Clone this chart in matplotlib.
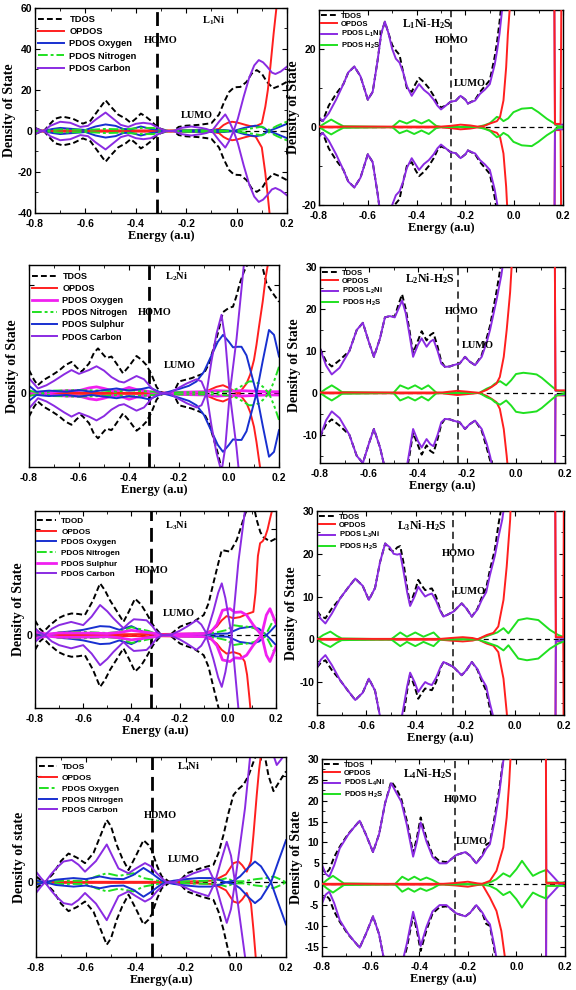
import numpy as np
import matplotlib
matplotlib.use("Agg")
import matplotlib.pyplot as plt
from matplotlib.ticker import MultipleLocator

# fonts: sans bold for ticks/legends, serif bold for labels and notes
SANS = 'Liberation Sans'
SERIF = 'Liberation Serif'
plt.rcParams['font.family'] = SANS
plt.rcParams['font.weight'] = 'bold'
plt.rcParams['mathtext.default'] = 'regular'
plt.rcParams['axes.unicode_minus'] = False
plt.rcParams['axes.linewidth'] = 1.0

W, H = 576, 990

RED = '#ff1f1f'
BLUE = '#1830d0'
GREEN = '#20e020'
PURPLE = '#8a2be2'
MAGENTA = '#f020f0'

x_ticks = [-0.8, -0.6, -0.4, -0.2, 0.0, 0.2]
x_tick_labels = ['-0.8', '-0.6', '-0.4', '-0.2', '0.0', '0.2']

# ---------------- L1Ni ----------------
p1_tdos = [(-0.8, 1.5), (-0.78, 0.5), (-0.765, 0), (-0.74, 3.5), (-0.72, 6), (-0.69, 7), (-0.65, 6),
           (-0.61, 3.6), (-0.58, 5), (-0.55, 10), (-0.52, 15), (-0.5, 12), (-0.47, 8), (-0.44, 6),
           (-0.42, 4), (-0.4, 6), (-0.38, 8.5), (-0.36, 7), (-0.34, 5), (-0.32, 2.5), (-0.3, 1),
           (-0.27, 0), (-0.25, 0), (-0.23, 2), (-0.2, 2.6), (-0.15, 3), (-0.1, 3.8), (-0.07, 8),
           (-0.05, 14), (-0.03, 19), (-0.01, 21.3), (0.015, 21.5), (0.04, 24), (0.06, 28), (0.08, 29.7),
           (0.1, 28), (0.12, 24), (0.145, 20.8), (0.17, 22), (0.2, 24)]
p1_opdos = [(-0.8, 0.3), (-0.4, 0.3), (-0.2, 0.3), (-0.1, 0.5), (-0.07, 1), (-0.052, 2.9), (-0.035, 4),
            (-0.018, 4.5), (0.0, 4.2), (0.015, 3.7), (0.035, 3), (0.054, 2.4), (0.075, 2.3), (0.1, 3.7),
            (0.114, 11.9), (0.124, 20), (0.134, 31.4), (0.147, 47.6), (0.158, 60), (0.17, 72)]
p1_opdos_low = [(-0.8, -0.3), (-0.4, -0.3), (-0.2, -0.3), (-0.1, -0.5), (-0.07, -1), (-0.052, -2.9),
                (-0.035, -4), (-0.018, -4.5), (0.0, -4.2), (0.015, -3.7), (0.035, -3), (0.054, -2.4),
                (0.075, -2.6), (0.1, -8), (0.114, -20.6), (0.124, -32), (0.134, -44), (0.147, -60), (0.17, -85)]
p1_oxygen = [(-0.8, 1), (-0.77, 0), (-0.73, 1), (-0.7, 1.5), (-0.65, 1), (-0.6, 0.5), (-0.56, 2.2),
             (-0.52, 3.2), (-0.48, 2.5), (-0.45, 1), (-0.42, 0.8), (-0.38, 2.2), (-0.34, 1), (-0.3, 0.5),
             (-0.27, 0), (-0.2, 0.3), (-0.1, 0.5), (-0.05, 0.5), (-0.012, 0), (0.03, 1.5), (0.074, 2.6),
             (0.1, 2), (0.127, 0), (0.16, 1.5), (0.2, 3.5)]
p1_nitrogen = [(-0.8, 0.5), (-0.77, 0), (-0.7, 0.8), (-0.6, 0.5), (-0.52, 1), (-0.45, 0.8), (-0.38, 1.5),
               (-0.33, 1.5), (-0.3, 0.5), (-0.27, 0), (-0.2, 0.3), (-0.1, 0.5), (-0.012, 0), (0.03, 0.8),
               (0.061, 1.3), (0.1, 2.1), (0.13, 0.5), (0.16, 2.5), (0.2, 4.6)]
p1_carbon = [(-0.8, 1.5), (-0.78, 0.3), (-0.765, 0), (-0.74, 2.5), (-0.7, 4.5), (-0.66, 4), (-0.62, 2),
             (-0.59, 2.5), (-0.56, 5.5), (-0.52, 9), (-0.49, 6), (-0.46, 3), (-0.43, 2), (-0.4, 3.5),
             (-0.37, 4), (-0.34, 3.5), (-0.31, 1.5), (-0.28, 0), (-0.25, 0), (-0.22, 1.5), (-0.18, 2.2),
             (-0.14, 1.5), (-0.12, 1), (-0.098, 0), (-0.07, 4.5), (-0.045, 8.1), (-0.03, 5), (-0.012, 0),
             (0.005, 6), (0.028, 16.7), (0.05, 26), (0.07, 32), (0.088, 34.6), (0.105, 33.5), (0.121, 31.4),
             (0.14, 28.5), (0.154, 27.8), (0.175, 29), (0.2, 31.4)]

# ---------------- L1Ni-H2S ----------------
p2_tdos = [(-0.8, 2), (-0.785, 1.5), (-0.76, 5.5), (-0.73, 8.5), (-0.7, 11), (-0.68, 14), (-0.655, 15.5),
           (-0.63, 13), (-0.6, 7), (-0.58, 9), (-0.56, 17), (-0.545, 24), (-0.53, 27), (-0.515, 24),
           (-0.5, 21), (-0.485, 19.6), (-0.47, 18.5), (-0.455, 14), (-0.44, 10), (-0.42, 9), (-0.405, 11),
           (-0.39, 12.6), (-0.37, 11.5), (-0.35, 10), (-0.33, 8), (-0.315, 6), (-0.3, 5), (-0.28, 5.5),
           (-0.26, 6.5), (-0.24, 6.7), (-0.22, 8), (-0.2, 7), (-0.19, 6), (-0.16, 7), (-0.14, 9),
           (-0.12, 10.5), (-0.1, 12), (-0.08, 18), (-0.07, 22), (-0.06, 27), (-0.05, 33), (-0.04, 38), (0.2, 40)]
p2_opdos = [(-0.8, 0.1), (-0.3, 0.1), (-0.26, 0.3), (-0.22, 0.6), (-0.18, 0.4), (-0.15, 0.1), (-0.126, 0.2),
            (-0.099, 0.9), (-0.071, 1.5), (-0.058, 2.6), (-0.044, 6.8), (-0.033, 15.3), (-0.026, 23.8),
            (-0.019, 29.8), (-0.012, 40), (0.164, 40), (0.167, 0.8), (0.19, 0.8), (0.194, 40), (0.2, 40)]
p2_l1ni = [(-0.8, 2.5), (-0.785, 1.5), (-0.76, 3.5), (-0.73, 7), (-0.7, 11), (-0.68, 14), (-0.655, 15.5),
           (-0.63, 13), (-0.6, 7), (-0.58, 9), (-0.56, 17), (-0.545, 24), (-0.53, 27), (-0.515, 24),
           (-0.5, 20), (-0.485, 17.5), (-0.47, 16.5), (-0.455, 14), (-0.44, 10.5), (-0.42, 8), (-0.405, 9.5),
           (-0.39, 11), (-0.37, 9.5), (-0.35, 8.5), (-0.33, 7), (-0.315, 5.5), (-0.3, 4.5), (-0.28, 5.5),
           (-0.26, 6.5), (-0.24, 6.7), (-0.22, 8), (-0.2, 7), (-0.19, 6), (-0.16, 6.8), (-0.14, 8.5),
           (-0.12, 9.6), (-0.1, 11), (-0.08, 16), (-0.07, 19.6), (-0.06, 24), (-0.05, 29.8), (-0.04, 36),
           (0.164, 40), (0.167, 0.6), (0.2, 0.6)]
p2_h2s = [(-0.8, 0), (-0.775, 1), (-0.75, 1.9), (-0.725, 1), (-0.7, 0.2), (-0.5, 0), (-0.47, 1.6),
          (-0.44, 0.9), (-0.41, 1.8), (-0.38, 0.9), (-0.35, 1.8), (-0.32, 0.3), (-0.3, 0), (-0.15, 0),
          (-0.12, 0.5), (-0.099, 1), (-0.071, 2.6), (-0.058, 2.3), (-0.044, 1.5), (-0.025, 2.2),
          (-0.003, 3.8), (0.031, 4.7), (0.072, 4.9), (0.099, 3.8), (0.134, 2.1), (0.162, 1), (0.178, 0.2),
          (0.2, 0.1)]

# ---------------- L2Ni ----------------
p3_tdos = [(-0.8, 4.3), (-0.78, 2.5), (-0.765, 1.5), (-0.74, 2.5), (-0.71, 3.3), (-0.68, 4.2), (-0.655, 5.2),
           (-0.63, 5.8), (-0.61, 4.8), (-0.59, 4), (-0.56, 5.5), (-0.54, 7.5), (-0.524, 8.3), (-0.5, 7),
           (-0.49, 6.5), (-0.47, 6.8), (-0.45, 5.5), (-0.424, 3.7), (-0.4, 5), (-0.37, 6.9), (-0.35, 6.2),
           (-0.33, 5.2), (-0.31, 3.5), (-0.29, 1.2), (-0.275, 0.3), (-0.255, 0), (-0.235, 0), (-0.215, 0.8),
           (-0.2, 2.2), (-0.15, 2.8), (-0.1, 3.7), (-0.08, 5.5), (-0.064, 8), (-0.045, 11), (-0.024, 15),
           (0.0, 15.8), (0.016, 16), (0.03, 18), (0.043, 20.3), (0.06, 22.5), (0.076, 24), (0.1, 26),
           (0.125, 25), (0.15, 20.3), (0.175, 18.5), (0.2, 16.9)]
p3_opdos = [(-0.8, 0.1), (-0.3, 0.1), (-0.1, 0.2), (-0.07, 0.8), (-0.05, 1.2), (-0.024, 1.5), (0.0, 1),
            (0.02, 0.4), (0.04, 0), (0.07, 1.8), (0.085, 3.5), (0.1, 6.2), (0.11, 9), (0.12, 12.3),
            (0.135, 17), (0.147, 21.5), (0.16, 25), (0.17, 28)]
p3_oxygen = [(-0.8, 0.3), (-0.75, 0), (-0.7, 0.3), (-0.65, 0.5), (-0.6, 0.5), (-0.56, 1), (-0.53, 1.2),
             (-0.5, 0.9), (-0.46, 0.4), (-0.43, 0.6), (-0.4, 1.1), (-0.37, 0.7), (-0.33, 0.4), (-0.3, 0.2),
             (-0.27, 0), (-0.2, 0.2), (-0.1, 0.3), (-0.05, 0.5), (0.0, 0.4), (0.05, 0.5), (0.1, 0.4),
             (0.15, 0.3), (0.2, 0.3)]
p3_nitrogen = [(-0.8, 0.5), (-0.75, 0), (-0.7, 0.5), (-0.6, 0.6), (-0.5, 0.5), (-0.45, 0.3), (-0.4, 0.6),
               (-0.35, 0.4), (-0.3, 0.3), (-0.27, 0), (-0.2, 0.2), (-0.1, 0.2), (-0.05, 0.2), (0.0, 0.4),
               (0.03, 0.8), (0.056, 1.5), (0.08, 2.2), (0.1, 2.2), (0.12, 1.8), (0.136, 1.2), (0.16, 0),
               (0.18, 2.2), (0.2, 4.9)]
p3_sulphur = [(-0.8, 1.4), (-0.77, 0.3), (-0.72, 0.5), (-0.65, 0.3), (-0.6, 0.6), (-0.55, 0.3), (-0.5, 0.6),
              (-0.45, 0.9), (-0.4, 0.5), (-0.35, 0.8), (-0.32, 1.1), (-0.29, 0.5), (-0.265, 0), (-0.24, 0.3),
              (-0.2, 0.8), (-0.16, 1.4), (-0.13, 2.2), (-0.1, 4), (-0.07, 7), (-0.045, 9.5), (-0.024, 10.8),
              (0.0, 9.5), (0.016, 8.5), (0.035, 8.6), (0.05, 8.6), (0.07, 7), (0.09, 3.5), (0.11, 0),
              (0.135, 6), (0.16, 11.7), (0.18, 10.8), (0.2, 6.8)]
p3_carbon = [(-0.8, 2.8), (-0.764, 0.9), (-0.73, 1.5), (-0.7, 2.3), (-0.66, 3.5), (-0.63, 4.3), (-0.6, 3.6),
             (-0.56, 4.3), (-0.53, 5), (-0.5, 4.2), (-0.47, 3), (-0.44, 2.2), (-0.42, 2), (-0.395, 2.6),
             (-0.37, 3.2), (-0.34, 2.6), (-0.31, 1), (-0.29, 0.3), (-0.265, 0), (-0.24, 0), (-0.21, 0.8),
             (-0.17, 1.8), (-0.13, 2.6), (-0.11, 2.2), (-0.09, 0), (-0.07, 6), (-0.05, 11), (-0.03, 14.5),
             (-0.015, 10), (0.003, 0), (0.03, 10), (0.06, 24), (0.09, 35)]

# ---------------- L2Ni-H2S ----------------
p4_tdos = [(-0.8, 10.6), (-0.775, 7.5), (-0.752, 6.3), (-0.72, 7.8), (-0.68, 10), (-0.65, 15), (-0.625, 16.7),
           (-0.6, 12), (-0.58, 8.6), (-0.555, 13), (-0.535, 18), (-0.515, 18.3), (-0.495, 18.2), (-0.48, 21),
           (-0.465, 23.5), (-0.45, 20), (-0.435, 15), (-0.42, 9.5), (-0.4, 12.5), (-0.385, 14.7),
           (-0.365, 12.5), (-0.35, 13.8), (-0.337, 14.3), (-0.32, 11), (-0.305, 7.5), (-0.29, 6.2),
           (-0.27, 6.3), (-0.256, 6.6), (-0.23, 7), (-0.208, 8.6), (-0.19, 7.5), (-0.167, 6.6), (-0.14, 9),
           (-0.12, 13), (-0.106, 16), (-0.08, 24), (-0.06, 31), (-0.05, 35), (-0.04, 40), (0.2, 40)]
p4_opdos = [(-0.8, 0.1), (-0.3, 0.1), (-0.27, 0.3), (-0.24, 0.5), (-0.2, 0.3), (-0.15, 0), (-0.12, 0.7),
            (-0.1, 1.4), (-0.08, 2.2), (-0.066, 3.8), (-0.05, 8.6), (-0.038, 15), (-0.024, 24), (-0.018, 30),
            (-0.01, 40), (0.158, 40), (0.161, 0.6), (0.2, 0.6)]
p4_l2ni = [(-0.8, 10.6), (-0.775, 6.5), (-0.752, 4.4), (-0.72, 6), (-0.68, 10), (-0.65, 15), (-0.625, 16.7),
           (-0.6, 12), (-0.58, 8.6), (-0.555, 13), (-0.535, 18), (-0.515, 18.3), (-0.495, 18), (-0.48, 20),
           (-0.465, 22), (-0.45, 19), (-0.435, 14), (-0.42, 8.6), (-0.4, 11.5), (-0.385, 13), (-0.365, 11),
           (-0.35, 12.2), (-0.337, 12.7), (-0.32, 10), (-0.305, 7), (-0.29, 6.2), (-0.27, 6.3),
           (-0.256, 6.6), (-0.23, 7), (-0.208, 8.6), (-0.19, 7.5), (-0.167, 6.6), (-0.14, 8.6), (-0.12, 12),
           (-0.106, 15), (-0.08, 22), (-0.06, 28), (-0.05, 32), (-0.04, 36), (0.158, 40), (0.161, 0.5),
           (0.2, 0.5)]
p4_h2s = [(-0.8, 0), (-0.775, 1), (-0.752, 1.8), (-0.73, 1), (-0.71, 0.2), (-0.5, 0), (-0.473, 1.8),
          (-0.44, 1), (-0.412, 1.8), (-0.385, 0.9), (-0.358, 1.8), (-0.324, 0), (-0.15, 0), (-0.12, 1),
          (-0.1, 1.5), (-0.086, 2.2), (-0.065, 2.8), (-0.04, 1.8), (-0.02, 3), (0.0, 4.5), (0.03, 4.8),
          (0.06, 4.6), (0.084, 4.4), (0.105, 3.6), (0.125, 2.6), (0.145, 1.6), (0.166, 0.6), (0.2, 0.2)]

# ---------------- L3Ni ----------------
p5_tdod = [(-0.8, 2.8), (-0.78, 1.2), (-0.765, 0.6), (-0.74, 1.8), (-0.703, 3.2), (-0.675, 3.8),
           (-0.648, 4.1), (-0.62, 4), (-0.593, 3.8), (-0.56, 6.5), (-0.53, 9.8), (-0.51, 8.5), (-0.489, 6.6),
           (-0.46, 4.5), (-0.433, 2.5), (-0.41, 4.5), (-0.385, 6.9), (-0.36, 5.8), (-0.337, 4.1), (-0.31, 1.9),
           (-0.285, 0.5), (-0.267, 0), (-0.24, 0), (-0.22, 0.8), (-0.198, 1.6), (-0.17, 2.1), (-0.143, 2.5),
           (-0.1, 3.8), (-0.08, 6), (-0.06, 9.8), (-0.04, 13.5), (-0.025, 16.1), (0.01, 15.8), (0.037, 18),
           (0.055, 20.5), (0.07, 22.7), (0.09, 25), (0.105, 25), (0.12, 21.8), (0.135, 19.5), (0.147, 18.6),
           (0.175, 17.7), (0.2, 18.3)]
p5_opdos = [(-0.8, 0.1), (-0.3, 0.2), (-0.1, 0.3), (-0.07, 0.8), (-0.046, 1.6), (-0.025, 2.8), (-0.005, 3.6),
            (0.023, 3.2), (0.05, 3.4), (0.08, 4), (0.106, 4.4), (0.115, 8), (0.125, 15), (0.134, 17.4),
            (0.145, 17.8), (0.155, 18.6), (0.165, 20), (0.175, 22), (0.182, 23.3), (0.19, 26)]
p5_opdos_low = [(-0.8, -0.1), (-0.3, -0.2), (-0.1, -0.3), (-0.07, -0.8), (-0.046, -1.6), (-0.025, -2.8),
                (-0.005, -3.5), (0.023, -3.2), (0.05, -3.6), (0.07, -5), (0.08, -7.5), (0.09, -12),
                (0.106, -20), (0.12, -30)]
p5_oxygen = [(-0.8, 0.3), (-0.75, 0), (-0.7, 0.5), (-0.65, 0.7), (-0.6, 1), (-0.53, 1.7), (-0.49, 1.6),
             (-0.45, 1), (-0.4, 1.7), (-0.35, 0.6), (-0.3, 0.3), (-0.27, 0), (-0.2, 0.2), (-0.1, 0.2),
             (0.0, 0.3), (0.05, 1.3), (0.1, 1.6), (0.13, 1.2), (0.16, 0), (0.18, 0.9), (0.2, 1.9)]
p5_nitrogen = [(-0.8, 0.6), (-0.75, 0), (-0.7, 0.5), (-0.6, 0.6), (-0.5, 0.4), (-0.45, 0.6), (-0.4, 1.5),
               (-0.37, 1.2), (-0.33, 0.8), (-0.3, 0.3), (-0.27, 0), (-0.2, 0.2), (-0.1, 0.3), (-0.05, 0.5),
               (0.0, 1), (0.02, 1.9), (0.05, 1.7), (0.08, 1.6), (0.11, 1.3), (0.14, 0.4), (0.16, 0.3), (0.2, 3.8)]
p5_sulphur = [(-0.8, 0.6), (-0.75, 0.2), (-0.7, 0.4), (-0.6, 0.4), (-0.5, 0.3), (-0.45, 0.5), (-0.4, 0.9),
              (-0.35, 0.6), (-0.3, 0.3), (-0.27, 0), (-0.2, 0.2), (-0.1, 0.3), (-0.07, 0.6), (-0.045, 2),
              (-0.022, 4.7), (0.009, 5), (0.03, 4.3), (0.055, 4.4), (0.078, 3.8), (0.106, 1.9), (0.14, 0),
              (0.16, 3.8), (0.175, 5), (0.2, 2.2)]
p5_carbon = [(-0.8, 1.3), (-0.78, 0.5), (-0.76, 0), (-0.73, 1.2), (-0.7, 1.9), (-0.65, 2.5), (-0.6, 1.9),
             (-0.565, 3.5), (-0.53, 5.7), (-0.5, 4.5), (-0.475, 3.2), (-0.433, 1.3), (-0.41, 2.3), (-0.39, 3),
             (-0.36, 2.9), (-0.337, 2.8), (-0.315, 1.8), (-0.295, 0.6), (-0.27, 0), (-0.24, 0), (-0.2, 0.8),
             (-0.17, 1.6), (-0.13, 2.8), (-0.11, 2), (-0.088, 0.3), (-0.06, 4.5), (-0.04, 8), (-0.025, 9.8),
             (-0.01, 7), (0.016, 0), (0.044, 13.9), (0.071, 23.5), (0.1, 30)]

# ---------------- L3Ni-H2S ----------------
p6_tdos = [(-0.8, 6.6), (-0.785, 5.5), (-0.766, 4.9), (-0.74, 7.2), (-0.706, 9.6), (-0.675, 12), (-0.645, 14.2),
           (-0.615, 12.5), (-0.59, 9.2), (-0.565, 12), (-0.545, 18), (-0.524, 22.4), (-0.505, 21), (-0.49, 20.5),
           (-0.475, 21.5), (-0.463, 21.8), (-0.45, 18), (-0.435, 12), (-0.423, 8.2), (-0.405, 11), (-0.39, 13.9),
           (-0.375, 12.5), (-0.362, 11.5), (-0.35, 11.7), (-0.335, 11.9), (-0.318, 10), (-0.3, 6.7),
           (-0.288, 5.3), (-0.27, 5.8), (-0.247, 6.5), (-0.23, 7.5), (-0.214, 8.4), (-0.195, 7.2),
           (-0.173, 5.3), (-0.15, 7.2), (-0.133, 9.8), (-0.115, 12), (-0.1, 16.2), (-0.08, 21), (-0.065, 27),
           (-0.05, 32), (-0.04, 36), (0.2, 40)]
p6_opdos = [(-0.8, 0.1), (-0.3, 0.1), (-0.26, 0.3), (-0.21, 0.5), (-0.17, 0.3), (-0.15, 0), (-0.113, 1),
            (-0.086, 1.5), (-0.066, 3), (-0.045, 9.2), (-0.032, 17), (-0.018, 28), (-0.01, 40), (0.164, 40),
            (0.167, 0.5), (0.197, 0.5), (0.2, 40)]
p6_l3ni = [(-0.8, 6.6), (-0.785, 4.8), (-0.766, 3.7), (-0.74, 6), (-0.706, 9.6), (-0.675, 12), (-0.645, 14.2),
           (-0.615, 12.5), (-0.59, 9.2), (-0.565, 12), (-0.545, 18), (-0.524, 22.4), (-0.505, 21.5), (-0.49, 20),
           (-0.475, 19.8), (-0.463, 20), (-0.45, 16), (-0.435, 11), (-0.423, 7.8), (-0.405, 10), (-0.39, 12.3),
           (-0.375, 11), (-0.362, 10), (-0.35, 10.4), (-0.335, 10.7), (-0.318, 9), (-0.3, 6.5), (-0.288, 5.3),
           (-0.27, 5.8), (-0.247, 6.5), (-0.23, 7.5), (-0.214, 8.4), (-0.195, 7.2), (-0.173, 5.3), (-0.15, 7),
           (-0.133, 9.2), (-0.115, 11), (-0.1, 15), (-0.08, 19.5), (-0.065, 24), (-0.05, 28), (-0.04, 32),
           (-0.03, 40), (0.164, 40), (0.167, 0.4), (0.2, 0.3)]
p6_h2s = [(-0.8, 0), (-0.775, 1), (-0.746, 1.8), (-0.72, 0.8), (-0.7, 0.2), (-0.5, 0), (-0.463, 1.6),
          (-0.436, 0.6), (-0.402, 1.6), (-0.369, 0.6), (-0.328, 1.6), (-0.3, 0), (-0.15, 0), (-0.1, 1),
          (-0.07, 1.6), (-0.045, 2.6), (-0.025, 1.4), (0.015, 4.5), (0.05, 4.9), (0.096, 4.5), (0.143, 2.2),
          (0.177, 1), (0.2, 0.5)]

# ---------------- L4Ni ----------------
p7_tdos = [(-0.8, 1.1), (-0.78, 0.4), (-0.764, 0), (-0.73, 1.7), (-0.7, 4), (-0.67, 5.4), (-0.635, 4.6),
           (-0.604, 3.6), (-0.57, 5.5), (-0.54, 9), (-0.517, 11.7), (-0.5, 10.5), (-0.477, 7), (-0.455, 4.5),
           (-0.43, 2.3), (-0.4, 5), (-0.37, 7.9), (-0.35, 7), (-0.337, 6), (-0.315, 3), (-0.297, 1.1),
           (-0.264, 0), (-0.23, 0), (-0.197, 1.7), (-0.144, 2.6), (-0.09, 3.3), (-0.07, 5.5), (-0.05, 8.9),
           (-0.03, 13), (-0.01, 16.4), (0.01, 17.5), (0.03, 18.3), (0.05, 20), (0.07, 22.6), (0.09, 25),
           (0.11, 25), (0.13, 20), (0.15, 17.1), (0.175, 19), (0.2, 20.8)]
p7_opdos = [(-0.8, 0.1), (-0.3, 0.1), (-0.15, 0.2), (-0.1, 0.3), (-0.077, 0.6), (-0.04, 1.5), (-0.01, 3.6),
            (0.01, 3.9), (0.025, 3.2), (0.043, 2), (0.06, 4), (0.07, 9), (0.083, 16.4), (0.092, 21), (0.1, 24),
            (0.11, 28)]
p7_oxygen = [(-0.8, 0.3), (-0.764, 0), (-0.7, 0.3), (-0.6, 0.3), (-0.56, 1.1), (-0.517, 1.7), (-0.47, 1.2),
             (-0.41, 1.7), (-0.37, 0.8), (-0.3, 0.2), (-0.264, 0), (-0.2, 0.2), (-0.1, 0.3), (-0.06, 0.5),
             (-0.037, 0.8), (-0.01, 0.2), (0.03, 0.2), (0.08, 0.6), (0.12, 0.8), (0.15, 1.1), (0.18, 0.5), (0.2, 0)]
p7_nitrogen = [(-0.8, 0.4), (-0.764, 0), (-0.72, 0.5), (-0.65, 0.8), (-0.6, 0.6), (-0.544, 1.1), (-0.5, 0.7),
               (-0.45, 0.6), (-0.41, 1.4), (-0.37, 2.7), (-0.34, 1.8), (-0.3, 0.4), (-0.28, 0), (-0.25, 0.3),
               (-0.2, 0.6), (-0.15, 0.8), (-0.1, 0.8), (-0.07, 0.5), (-0.04, 0), (-0.01, 0.3), (0.016, 1.1),
               (0.05, 2.8), (0.076, 3.9), (0.1, 3), (0.12, 1.5), (0.14, 0), (0.17, 4), (0.2, 7.9)]
p7_carbon = [(-0.8, 2), (-0.78, 0.8), (-0.764, 0), (-0.74, 1.5), (-0.72, 2.6), (-0.69, 3.9), (-0.657, 4.2),
             (-0.63, 3.3), (-0.604, 2), (-0.56, 4), (-0.517, 7.1), (-0.49, 4.5), (-0.47, 2.6), (-0.43, 1.7),
             (-0.4, 2.6), (-0.364, 3.6), (-0.34, 3), (-0.317, 1.7), (-0.29, 0.5), (-0.277, 0), (-0.25, 0),
             (-0.21, 0.8), (-0.17, 1.7), (-0.11, 2.6), (-0.084, 0), (-0.06, 4), (-0.037, 7.6), (-0.02, 5),
             (-0.004, 0), (0.036, 13.9), (0.07, 30), (0.12, 30), (0.145, 24.5), (0.163, 22), (0.18, 23),
             (0.19, 23.7), (0.2, 26)]

# ---------------- L4Ni-H2S ----------------
p8_tdos = [(-0.8, 4), (-0.785, 2.6), (-0.77, 3.5), (-0.75, 6.5), (-0.727, 9), (-0.693, 12), (-0.67, 13.5),
           (-0.645, 15.2), (-0.62, 12), (-0.59, 7.7), (-0.565, 12), (-0.54, 19.5), (-0.515, 24.6), (-0.495, 23),
           (-0.474, 20.5), (-0.45, 15), (-0.425, 7.5), (-0.41, 11), (-0.394, 16), (-0.37, 11), (-0.345, 7),
           (-0.316, 5.5), (-0.288, 5.3), (-0.268, 6), (-0.247, 7), (-0.21, 7.7), (-0.19, 6.8), (-0.165, 5),
           (-0.14, 7), (-0.124, 9.5), (-0.109, 10), (-0.09, 16), (-0.07, 23), (-0.054, 30), (-0.04, 35),
           (-0.02, 40), (0.2, 40)]
p8_opdos = [(-0.8, 0.1), (-0.3, 0.1), (-0.25, 0.3), (-0.2, 0.6), (-0.16, 0.2), (-0.14, 0.1), (-0.109, 0.8),
            (-0.082, 3.2), (-0.054, 8.8), (-0.04, 16), (-0.03, 24), (-0.025, 29.5), (-0.015, 40), (0.121, 40),
            (0.123, 0.3), (0.2, 0.3)]
p8_opdos_low = [(-0.8, -0.1), (-0.3, -0.1), (-0.25, -0.3), (-0.2, -0.6), (-0.16, -0.2), (-0.14, -0.1),
                (-0.109, -3.2), (-0.082, -6.4), (-0.062, -11.2), (-0.048, -17.2), (-0.035, -26), (-0.025, -40),
                (0.121, -40), (0.123, -0.3), (0.2, -0.3)]
p8_l4ni = [(-0.8, 4.6), (-0.785, 2.5), (-0.77, 1.8), (-0.75, 4.5), (-0.727, 8.6), (-0.693, 11.8), (-0.67, 13.5),
           (-0.645, 15.2), (-0.62, 12), (-0.59, 7.7), (-0.565, 12), (-0.54, 19.5), (-0.515, 24.2), (-0.495, 22),
           (-0.474, 19.8), (-0.45, 14), (-0.425, 6.6), (-0.41, 10), (-0.394, 14.8), (-0.37, 10.2), (-0.345, 6.5),
           (-0.316, 5), (-0.288, 5), (-0.268, 6), (-0.247, 7), (-0.21, 7.7), (-0.19, 6.8), (-0.165, 5),
           (-0.14, 6.8), (-0.124, 8.5), (-0.109, 9.6), (-0.09, 15), (-0.07, 22), (-0.054, 29.5), (-0.04, 34),
           (-0.02, 40), (0.121, 40), (0.123, 3.6), (0.155, 1.6), (0.18, 0), (0.2, 0.6)]
p8_h2s = [(-0.8, 0), (-0.78, 1), (-0.755, 2), (-0.73, 1), (-0.71, 0.2), (-0.5, 0), (-0.47, 1.8), (-0.445, 1),
          (-0.42, 1.8), (-0.395, 1), (-0.37, 1.6), (-0.345, 1), (-0.315, 0), (-0.15, 0), (-0.11, 0.4),
          (-0.082, 1.2), (-0.054, 2.6), (-0.027, 1.8), (0.0, 3.6), (0.023, 5.6), (0.045, 3.8), (0.068, 2),
          (0.095, 2.8), (0.121, 3.4), (0.123, 0.4), (0.2, 0.4)]


def rect(l, t, r, b):
    return [l / W, 1 - b / H, (r - l) / W, (b - t) / H]


def dos(ax, pts, color, label, low=None, lw=1.4, z=2, zl=None, **kw):
    # upper (spin up) curve plus its mirror below zero
    x, y = zip(*pts)
    line, = ax.plot(x, y, color=color, lw=lw, zorder=z, label=label, **kw)
    if low is None:
        ax.plot(x, [-v for v in y], color=color, lw=lw, zorder=z if zl is None else zl, **kw)
    else:
        xl, yl = zip(*low)
        ax.plot(xl, yl, color=color, lw=lw, zorder=z if zl is None else zl, **kw)
    return line


def note(ax, x, y, s, size=7.5):
    ax.text(x, y, s, ha='center', va='center', family=SERIF, weight='bold', fontsize=size, zorder=5)


def frame(ax, ylim, yticks, ylabels=None, minor=None, xlabel='Energy (a.u)', ylabel='Density of State'):
    ax.set_xlim(-0.8, 0.2)
    ax.set_ylim(*ylim)
    ax.set_xticks(x_ticks)
    ax.set_xticklabels(x_tick_labels)
    ax.xaxis.set_minor_locator(MultipleLocator(0.1))
    ax.set_yticks(yticks)
    if ylabels is not None:
        ax.set_yticklabels(ylabels)
    if minor:
        ax.yaxis.set_minor_locator(MultipleLocator(minor))
    ax.tick_params(which='both', direction='in', top=True, right=True, labelsize=7.5, pad=2)
    ax.tick_params(axis='x', which='both', pad=4)
    ax.tick_params(which='major', length=3.5, width=0.8)
    ax.tick_params(which='minor', length=2, width=0.6)
    ax.set_xlabel(xlabel, family=SERIF, weight='bold', fontsize=9, labelpad=1)
    ax.set_ylabel(ylabel, family=SERIF, weight='bold', fontsize=10, labelpad=1)
    ax.axhline(0, color='black', lw=0.9, ls=(0, (4, 3)), zorder=1.5)


def homo(ax, x, thick=True):
    if thick:
        ax.axvline(x, color='black', lw=2.0, ls=(0, (5, 2.5)), zorder=1.6)
    else:
        ax.axvline(x, color='#333333', lw=1.3, ls=(0, (4, 2.5)), zorder=1.6)


def big_legend(ax, size, hl, dy):
    ax.legend(loc='upper left', bbox_to_anchor=(0.0, 1.0 - dy), frameon=False, fontsize=size,
              handlelength=hl, labelspacing=0.35, borderaxespad=0.1, borderpad=0.2, handletextpad=0.6)


def small_legend(ax):
    ax.legend(loc='upper left', bbox_to_anchor=(0.0, 1.0), frameon=False, fontsize=5.5,
              handlelength=2.0, labelspacing=0.15, borderaxespad=0.1, borderpad=0.2, handletextpad=0.6)


TDASH = dict(ls=(0, (3, 1.6)))
DASHDOT = dict(ls=(0, (5, 1.5, 1.5, 1.5)))
DASHDOTDOT = dict(ls=(0, (5, 1.5, 1.5, 1.5, 1.5, 1.5)))

fig = plt.figure(figsize=(W / 100, H / 100), dpi=100)

# panel 1: L1Ni
ax = fig.add_axes(rect(35, 8, 287, 213))
dos(ax, p1_tdos, 'black', 'TDOS', lw=1.4, **TDASH)
dos(ax, p1_opdos, RED, 'OPDOS', low=p1_opdos_low)
dos(ax, p1_oxygen, BLUE, 'PDOS Oxygen')
dos(ax, p1_nitrogen, GREEN, 'PDOS Nitrogen', **DASHDOT)
dos(ax, p1_carbon, PURPLE, 'PDOS Carbon')
frame(ax, (-40, 60), [-40, -20, 0, 20, 40, 60], minor=10)
homo(ax, -0.317)
note(ax, -0.30, 44, 'HOMO')
note(ax, -0.158, 7.8, 'LUMO')
note(ax, -0.09, 54, 'L$_1$Ni')
big_legend(ax, 6.7, 2.8, 0.02)

# panel 2: L1Ni-H2S
ax = fig.add_axes(rect(319, 10, 563, 205))
dos(ax, p2_tdos, 'black', 'TDOS', lw=1.4, **TDASH)
dos(ax, p2_opdos, RED, 'OPDOS', z=2.6, zl=2)
dos(ax, p2_l1ni, PURPLE, 'PDOS L$_1$Ni', z=2.3)
dos(ax, p2_h2s, GREEN, 'PDOS H$_2$S', z=2.4)
frame(ax, (-20, 30), [-20, 0, 20], minor=10)
homo(ax, -0.259, thick=False)
note(ax, -0.359, 26.5, 'L$_1$Ni-H$_2$S', 8.5)
note(ax, -0.256, 22.3, 'HOMO')
note(ax, -0.181, 11.2, 'LUMO')
small_legend(ax)

# panel 3: L2Ni
ax = fig.add_axes(rect(29, 265, 279, 467))
dos(ax, p3_tdos, 'black', 'TDOS', lw=1.4, **TDASH)
dos(ax, p3_opdos, RED, 'OPDOS')
dos(ax, p3_oxygen, MAGENTA, 'PDOS Oxygen', lw=2.0)
dos(ax, p3_nitrogen, GREEN, 'PDOS Nitrogen', **DASHDOTDOT)
dos(ax, p3_sulphur, BLUE, 'PDOS Sulphur')
dos(ax, p3_carbon, PURPLE, 'PDOS Carbon')
frame(ax, (-13.6, 23.7), [0, 20], ['0', ''])
homo(ax, -0.321)
note(ax, -0.297, 15, 'HOMO')
note(ax, -0.197, 5.2, 'LUMO')
note(ax, -0.21, 21.5, 'L$_2$Ni')
big_legend(ax, 6.5, 2.8, 0.02)

# panel 4: L2Ni-H2S
ax = fig.add_axes(rect(320, 267, 565, 463))
dos(ax, p4_tdos, 'black', 'TDOS', lw=1.4, **TDASH)
dos(ax, p4_opdos, RED, 'OPDOS', z=2.6, zl=2)
dos(ax, p4_l2ni, PURPLE, 'PDOS L$_2$Ni', z=2.3)
dos(ax, p4_h2s, GREEN, 'PDOS H$_2$S', z=2.4)
frame(ax, (-16.7, 30), [-10, 0, 10, 20, 30], minor=5)
homo(ax, -0.235, thick=False)
note(ax, -0.351, 27.2, 'L$_2$Ni-H$_2$S', 8.5)
note(ax, -0.222, 19.3, 'HOMO')
note(ax, -0.154, 11.3, 'LUMO')
small_legend(ax)

# panel 5: L3Ni
ax = fig.add_axes(rect(35, 511, 276, 708))
dos(ax, p5_tdod, 'black', 'TDOD', lw=1.4, **TDASH)
dos(ax, p5_opdos, RED, 'OPDOS', low=p5_opdos_low)
dos(ax, p5_oxygen, BLUE, 'PDOS Oxygen')
dos(ax, p5_nitrogen, GREEN, 'PDOS Nitrogen', **DASHDOT)
dos(ax, p5_sulphur, MAGENTA, 'PDOS Sulphur', lw=2.0)
dos(ax, p5_carbon, PURPLE, 'PDOS Carbon')
frame(ax, (-13.8, 23.5), [0, 20], ['0', ''])
homo(ax, -0.319)
note(ax, -0.316, 12.3, 'HOMO')
note(ax, -0.205, 4.1, 'LUMO')
note(ax, -0.212, 20.8, 'L$_3$Ni')
big_legend(ax, 5.9, 2.3, 0.02)

# panel 6: L3Ni-H2S
ax = fig.add_axes(rect(317, 511, 564, 715))
dos(ax, p6_tdos, 'black', 'TDOS', lw=1.4, **TDASH)
dos(ax, p6_opdos, RED, 'OPDOS', z=2.6, zl=2)
dos(ax, p6_l3ni, PURPLE, 'PDOS L$_3$Ni', z=2.3)
dos(ax, p6_h2s, GREEN, 'PDOS H$_2$S', z=2.4)
frame(ax, (-17.7, 30), [-10, 0, 10, 20, 30], minor=5)
homo(ax, -0.251, thick=False)
note(ax, -0.375, 26.7, 'L$_3$Ni-H$_2$S', 8.5)
note(ax, -0.227, 20, 'HOMO')
note(ax, -0.18, 11.1, 'LUMO')
small_legend(ax)

# panel 7: L4Ni
ax = fig.add_axes(rect(36, 757, 286, 957))
dos(ax, p7_tdos, 'black', 'TDOS', lw=1.4, **TDASH)
dos(ax, p7_opdos, RED, 'OPDOS')
dos(ax, p7_oxygen, GREEN, 'PDOS Oxygen', **DASHDOT)
dos(ax, p7_nitrogen, BLUE, 'PDOS Nitrogen')
dos(ax, p7_carbon, PURPLE, 'PDOS Carbon')
frame(ax, (-14, 23.5), [0, 20], ['0', ''], xlabel='Energy(a.u)', ylabel='Density of state')
homo(ax, -0.335)
note(ax, -0.304, 12.6, 'HDMO')
note(ax, -0.21, 4.2, 'LUMO')
note(ax, -0.19, 21.7, 'L$_4$Ni')
big_legend(ax, 6.0, 2.2, 0.02)

# panel 8: L4Ni-H2S
ax = fig.add_axes(rect(322, 759, 565, 956))
dos(ax, p8_tdos, 'black', 'TDOS', lw=1.4, **TDASH)
dos(ax, p8_opdos, RED, 'OPDOS', low=p8_opdos_low, z=2.6, zl=2)
dos(ax, p8_l4ni, PURPLE, 'PDOS L$_4$Ni', z=2.3)
dos(ax, p8_h2s, GREEN, 'PDOS H$_2$S', z=2.4)
frame(ax, (-17.2, 30), [-15, -10, -5, 0, 5, 10, 15, 20, 25, 30], minor=2.5)
homo(ax, -0.254, thick=False)
note(ax, -0.364, 26.6, 'L$_4$Ni-H$_2$S', 8.5)
note(ax, -0.227, 20.2, 'HOMO')
note(ax, -0.185, 10.2, 'LUMO')
small_legend(ax)

fig.savefig('out.png', dpi=100)
